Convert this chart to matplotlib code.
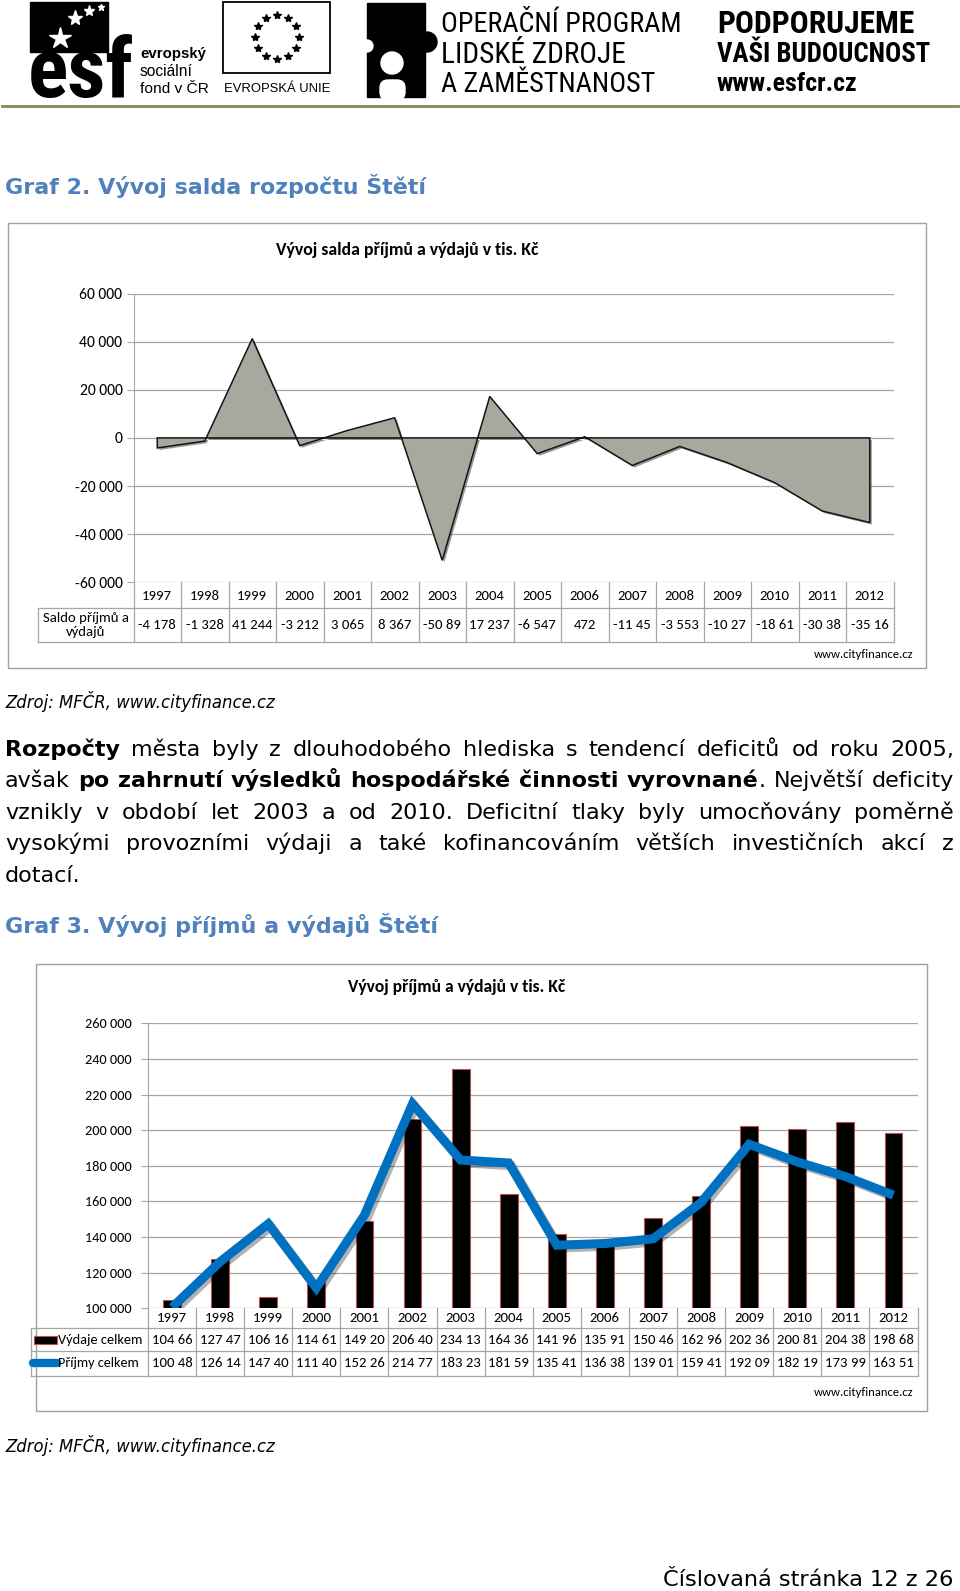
import numpy as np
import matplotlib
matplotlib.use("Agg")
import matplotlib.pyplot as plt
import matplotlib.patheffects as pe
from matplotlib import font_manager
from matplotlib.transforms import blended_transform_factory
from matplotlib.patches import Rectangle, Circle, FancyBboxPatch

W, H = 960, 1591

# =========================
# DATA
# =========================
years = ["1997", "1998", "1999", "2000", "2001", "2002", "2003", "2004",
         "2005", "2006", "2007", "2008", "2009", "2010", "2011", "2012"]

# saldo prijmu a vydaju (tis. Kc)
saldo = [-4178, -1328, 41244, -3212, 3065, 8367, -50890, 17237,
         -6547, 472, -11450, -3553, -10270, -18610, -30380, -35160]
saldo_labels = ["-4 178", "-1 328", "41 244", "-3 212", "3 065", "8 367", "-50 89", "17 237",
                "-6 547", "472", "-11 45", "-3 553", "-10 27", "-18 61", "-30 38", "-35 16"]
saldo_ticks = [60000, 40000, 20000, 0, -20000, -40000, -60000]

vydaje = [104660, 127470, 106160, 114610, 149200, 206400, 234130, 164360,
          141960, 135910, 150460, 162960, 202360, 200810, 204380, 198680]
vydaje_labels = ["104 66", "127 47", "106 16", "114 61", "149 20", "206 40", "234 13", "164 36",
                 "141 96", "135 91", "150 46", "162 96", "202 36", "200 81", "204 38", "198 68"]
prijmy = [100480, 126140, 147400, 111400, 152260, 214770, 183230, 181590,
          135410, 136380, 139010, 159410, 192090, 182190, 173990, 163510]
prijmy_labels = ["100 48", "126 14", "147 40", "111 40", "152 26", "214 77", "183 23", "181 59",
                 "135 41", "136 38", "139 01", "159 41", "192 09", "182 19", "173 99", "163 51"]
budget_ticks = [100000, 120000, 140000, 160000, 180000, 200000, 220000, 240000, 260000]

paragraph = [
    [("Rozpočty", "bold"), (" města byly z dlouhodobého hlediska s tendencí deficitů od roku 2005,", "normal")],
    [("avšak ", "normal"), ("po zahrnutí výsledků hospodářské činnosti vyrovnané", "bold"),
     (". Největší deficity", "normal")],
    [("vznikly v období let 2003 a od 2010. Deficitní tlaky byly umocňovány poměrně", "normal")],
    [("vysokými provozními výdaji a také kofinancováním větších investičních akcí z", "normal")],
    [("dotací.", "normal")],
]


def pick_font(names):
    have = {f.name for f in font_manager.fontManager.ttflist}
    for n in names:
        if n in have:
            return n
    return "DejaVu Sans"


CHART_FONT = pick_font(["Carlito", "Lato", "Open Sans"])
NARROW_FONT = pick_font(["Liberation Sans Narrow", "Roboto Condensed", "Roboto"])
PAGE_FONT = "DejaVu Sans"
BLUE_HEAD = "#4F81BD"
GRID = "#A6A6A6"
BOX = "#A0A0A0"

plt.rcParams["font.family"] = [CHART_FONT, "DejaVu Sans"]

fig = plt.figure(figsize=(W / 100, H / 100), dpi=100)
bg = fig.add_axes([0, 0, 1, 1])
bg.set_xlim(0, W)
bg.set_ylim(H, 0)
bg.axis("off")
renderer = fig.canvas.get_renderer()


def ax_at(x0, y0, x1, y1):
    a = fig.add_axes([x0 / W, 1 - y1 / H, (x1 - x0) / W, (y1 - y0) / H])
    a.set_facecolor("none")
    return a


def text_width(s, **kw):
    t = bg.text(0, 0, s, **kw)
    w = t.get_window_extent(renderer).width
    t.remove()
    return w


def fit_size(s, width, **kw):
    return 10 * width / text_width(s, fontsize=10, **kw)


def fit_text(x, y, s, width, ha="left", va="center", **kw):
    size = fit_size(s, width, **kw)
    return bg.text(x, y, s, fontsize=size, ha=ha, va=va, **kw)


# =========================
# HEADER (logos)
# =========================
bg.add_patch(Rectangle((30, 2), 78, 50, color="black"))
for sx, sy, ms in [(60, 38, 16), (75, 18, 11), (89, 11, 8), (101, 7, 5)]:
    bg.plot(sx, sy, marker="*", ms=ms, color="white", mec="white")
fit_text(28, 97, "esf", 106, va="baseline", fontweight="bold", family=NARROW_FONT)
fit_text(140, 54, "evropský", 66, fontweight="bold", family="Liberation Sans")
fit_text(140, 72, "sociální", 53, family="Liberation Sans")
fit_text(140, 89, "fond v ČR", 69, family="Liberation Sans")

bg.add_patch(Rectangle((223, 2), 107, 71, fc="white", ec="black", lw=1.3))
ang = np.linspace(0, 2 * np.pi, 13)[:-1]
bg.plot(277 + 22 * np.cos(ang), 37 + 22 * np.sin(ang), ls="none", marker="*", ms=6, color="black")
fit_text(277, 89, "EVROPSKÁ UNIE", 106, ha="center", family="Liberation Sans")

# puzzle piece
bg.add_patch(Rectangle((367, 3), 58, 94, color="black"))
bg.add_patch(Circle((427, 42), 10, color="black"))
bg.add_patch(Circle((367, 46), 6, color="white"))
bg.add_patch(Circle((392, 63), 11, color="white"))
bg.add_patch(FancyBboxPatch((380, 80), 25, 20, boxstyle="round,pad=0,rounding_size=8", color="white"))

fit_text(441, 24, "OPERAČNÍ PROGRAM", 241, family=NARROW_FONT)
fit_text(441, 55, "LIDSKÉ ZDROJE", 185, family=NARROW_FONT)
fit_text(441, 84, "A ZAMĚSTNANOST", 214, family=NARROW_FONT)
fit_text(717, 24, "PODPORUJEME", 196, family=NARROW_FONT, fontweight="bold")
fit_text(717, 55, "VAŠI BUDOUCNOST", 212, family=NARROW_FONT, fontweight="bold")
fit_text(717, 84, "www.esfcr.cz", 141, family=NARROW_FONT, fontweight="bold")
bg.plot([2, 958], [106, 106], color="#7D8A5C", lw=2)

# =========================
# PAGE TEXT
# =========================
fit_text(5, 186, "Graf 2. Vývoj salda rozpočtu Štětí", 420, family=PAGE_FONT,
         fontweight="bold", color=BLUE_HEAD)
fit_text(5, 702, "Zdroj: MFČR, www.cityfinance.cz", 269, family=PAGE_FONT, style="italic")
fit_text(5, 925, "Graf 3. Vývoj příjmů a výdajů Štětí", 433, family=PAGE_FONT,
         fontweight="bold", color=BLUE_HEAD)
fit_text(5, 1445, "Zdroj: MFČR, www.cityfinance.cz", 269, family=PAGE_FONT, style="italic")
fit_text(663, 1580, "Číslovaná stránka 12 z 26", 291, family=PAGE_FONT)

# justified paragraph
PX0, PX1 = 5, 954
line_base = [756, 787, 819, 850, 882]


def tokens_of(line):
    toks = []
    pending = False
    for txt, weight in line:
        for i, p in enumerate(txt.split(" ")):
            if i > 0:
                pending = True
            if p == "":
                continue
            toks.append([p, weight, pending and len(toks) > 0])
            pending = False
    return toks


def natural_width(toks, fs):
    sw = text_width("a a", fontsize=fs, family=PAGE_FONT) - text_width("aa", fontsize=fs, family=PAGE_FONT)
    w = sum(text_width(t[0], fontsize=fs, family=PAGE_FONT, fontweight=t[1]) for t in toks)
    return w + sw * sum(1 for t in toks[1:] if t[2])


all_tokens = [tokens_of(l) for l in paragraph]
fs_par = 16
widest = max(natural_width(t, fs_par) for t in all_tokens)
if widest > 0.99 * (PX1 - PX0):
    fs_par = fs_par * 0.99 * (PX1 - PX0) / widest
space_w = text_width("a a", fontsize=fs_par, family=PAGE_FONT) - text_width("aa", fontsize=fs_par, family=PAGE_FONT)

for li, toks in enumerate(all_tokens):
    widths = [text_width(t[0], fontsize=fs_par, family=PAGE_FONT, fontweight=t[1]) for t in toks]
    ngaps = sum(1 for t in toks[1:] if t[2])
    last = li == len(all_tokens) - 1
    gap = (PX1 - PX0 - sum(widths)) / ngaps if (ngaps and not last) else space_w
    x = PX0
    for k, (t, w) in enumerate(zip(toks, widths)):
        if k > 0 and t[2]:
            x += gap
        bg.text(x, line_base[li], t[0], fontsize=fs_par, family=PAGE_FONT, fontweight=t[1],
                ha="left", va="baseline")
        x += w

# =========================
# CHART 1 - saldo
# =========================
bg.add_patch(Rectangle((8, 223), 918, 445, fc="white", ec=BOX, lw=1))
fit_text(407, 250, "Vývoj salda příjmů a výdajů v tis. Kč", 262, ha="center", fontweight="bold")

fs_tick = fit_size("60 000", 44)
fs_tab = fit_size("1997", 30)

ax1 = ax_at(133.5, 293.5, 893.5, 582.3)
xs = np.arange(len(years))
ax1.set_xlim(-0.5, len(years) - 0.5)
ax1.set_ylim(-60000, 60000)
ax1.set_yticks(saldo_ticks)
ax1.yaxis.set_major_formatter(lambda v, p: f"{int(v):,}".replace(",", " "))
ax1.grid(axis="y", color=GRID, lw=0.9)
ax1.set_axisbelow(True)
ax1.set_xticks([])
for s in ["top", "right", "bottom"]:
    ax1.spines[s].set_visible(False)
ax1.spines["left"].set_color(GRID)
ax1.tick_params(axis="y", length=5, color=GRID, labelsize=fs_tick, pad=3)

area_x = np.concatenate([[xs[0]], xs, [xs[-1]]])
area_y = np.concatenate([[0], saldo, [0]])
ax1.fill(area_x, area_y, facecolor="#A6A99E", edgecolor="#151515", lw=1.1, zorder=3,
         path_effects=[pe.SimplePatchShadow(offset=(1.5, -1.5), alpha=0.5), pe.Normal()])

tr1 = blended_transform_factory(ax1.transData, bg.transData)
edges = np.arange(len(years) + 1) - 0.5
T1_TOP, T1_MID, T1_BOT, T1_LEFT = 582.3, 608, 642, 38
for e in edges:
    ax1.plot([e, e], [T1_TOP, T1_BOT], transform=tr1, color=GRID, lw=0.9, clip_on=False)
for yy in [T1_MID, T1_BOT]:
    ax1.plot([edges[0], edges[-1]], [yy, yy], transform=tr1, color=GRID, lw=0.9, clip_on=False)
    bg.plot([T1_LEFT, 133.5], [yy, yy], color=GRID, lw=0.9)
bg.plot([T1_LEFT, T1_LEFT], [T1_MID, T1_BOT], color=GRID, lw=0.9)
for i, (yr, lab) in enumerate(zip(years, saldo_labels)):
    ax1.text(i, (T1_TOP + T1_MID) / 2 + 0.5, yr, transform=tr1, ha="center", va="center", fontsize=fs_tab)
    ax1.text(i, (T1_MID + T1_BOT) / 2, lab, transform=tr1, ha="center", va="center", fontsize=fs_tab)
bg.text(86, (T1_MID + T1_BOT) / 2, "Saldo příjmů a\nvýdajů", ha="center", va="center",
        fontsize=fs_tab, linespacing=1.25)
bg.text(913, 654, "www.cityfinance.cz", ha="right", va="center", fontsize=fs_tab * 0.85)

# =========================
# CHART 2 - prijmy a vydaje
# =========================
bg.add_patch(Rectangle((35.5, 964), 891, 446.5, fc="white", ec=BOX, lw=1))
fit_text(457, 987, "Vývoj příjmů a výdajů v tis. Kč", 217, ha="center", fontweight="bold")

fs_tick2 = fit_size("260 000", 47)

ax2 = ax_at(148, 1023.3, 917.5, 1308.3)
ax2.set_xlim(-0.5, len(years) - 0.5)
ax2.set_ylim(100000, 260000)
ax2.set_yticks(budget_ticks)
ax2.yaxis.set_major_formatter(lambda v, p: f"{int(v):,}".replace(",", " "))
ax2.grid(axis="y", color=GRID, lw=0.9)
ax2.set_axisbelow(True)
ax2.set_xticks([])
for s in ["top", "right", "bottom"]:
    ax2.spines[s].set_visible(False)
ax2.spines["left"].set_color(GRID)
ax2.tick_params(axis="y", length=5, color=GRID, labelsize=fs_tick2, pad=7)

ax2.bar(xs, vydaje, width=0.37, color="black", edgecolor="#C0504D", lw=0.8, zorder=3)
ax2.plot(xs, prijmy, color="#0070C0", lw=6.5, solid_joinstyle="miter", solid_capstyle="butt",
         zorder=4, path_effects=[pe.SimpleLineShadow(offset=(2, -2), alpha=0.3), pe.Normal()])

tr2 = blended_transform_factory(ax2.transData, bg.transData)
T2_ROWS = [1308.3, 1328, 1351, 1375.7]
T2_LEFT = 30.5
for e in edges:
    ax2.plot([e, e], [T2_ROWS[0], T2_ROWS[-1]], transform=tr2, color=GRID, lw=0.9, clip_on=False)
for yy in T2_ROWS[1:]:
    ax2.plot([edges[0], edges[-1]], [yy, yy], transform=tr2, color=GRID, lw=0.9, clip_on=False)
    bg.plot([T2_LEFT, 148], [yy, yy], color=GRID, lw=0.9)
bg.plot([T2_LEFT, T2_LEFT], [T2_ROWS[1], T2_ROWS[-1]], color=GRID, lw=0.9)
rc = [(T2_ROWS[k] + T2_ROWS[k + 1]) / 2 for k in range(3)]
for i, (yr, v1, v2) in enumerate(zip(years, vydaje_labels, prijmy_labels)):
    ax2.text(i, rc[0], yr, transform=tr2, ha="center", va="center", fontsize=fs_tab)
    ax2.text(i, rc[1], v1, transform=tr2, ha="center", va="center", fontsize=fs_tab)
    ax2.text(i, rc[2], v2, transform=tr2, ha="center", va="center", fontsize=fs_tab)

bg.add_patch(Rectangle((34, rc[1] - 4), 23, 8, fc="black", ec="#C0504D", lw=0.8))
bg.plot([33, 57], [rc[2], rc[2]], color="#0070C0", lw=6, solid_capstyle="round")
fit_text(57.5, rc[1], "Výdaje celkem", 85)
fit_text(58.5, rc[2], "Příjmy celkem", 81)
bg.text(913, 1392, "www.cityfinance.cz", ha="right", va="center", fontsize=fs_tab * 0.85)

fig.savefig("out.png", dpi=100)
